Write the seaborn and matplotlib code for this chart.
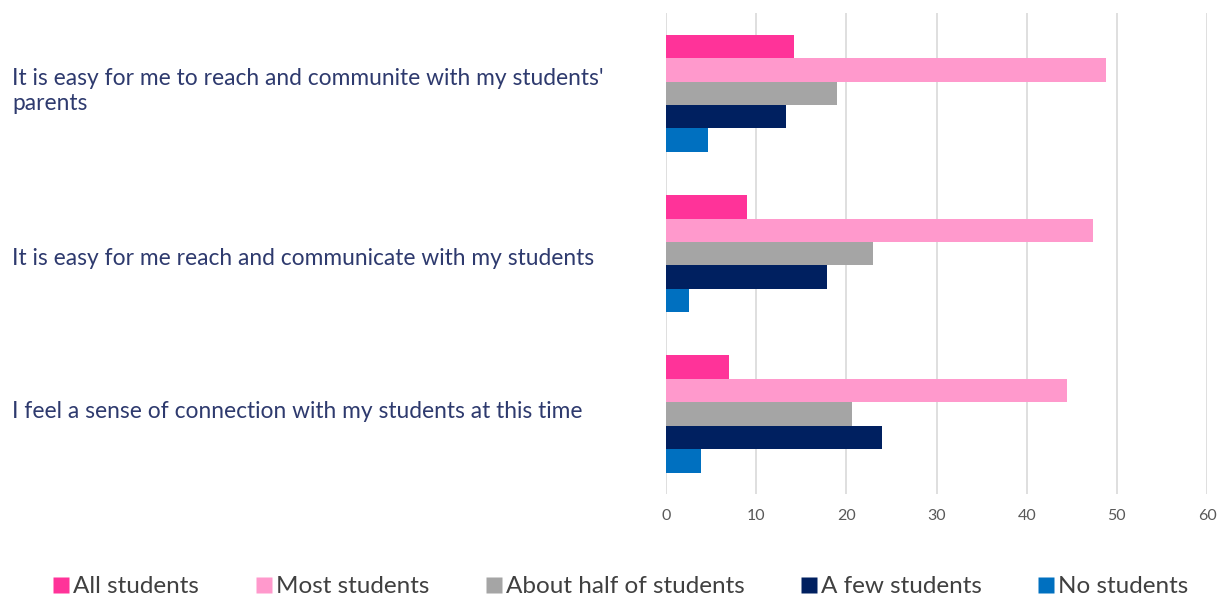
import pandas as pd
import seaborn as sns
import matplotlib.pyplot as plt
from matplotlib.lines import Line2D
from matplotlib.transforms import blended_transform_factory

questions = ["It is easy for me to reach and communite with my students'\nparents",
             "It is easy for me reach and communicate with my students",
             "I feel a sense of connection with my students at this time"]
answers = ['All students', 'Most students', 'About half of students',
           'A few students', 'No students']
colors = ['#FF3399', '#FF99CC', '#A5A5A5', '#002060', '#0070C0']

all_students  = [14.2, 9.0, 7.0]
most_students = [48.8, 47.4, 44.5]
half_students = [19.0, 22.9, 20.6]
few_students  = [13.3, 17.9, 24.0]
no_students   = [4.7, 2.6, 3.9]

rows = []
for i, q in enumerate(questions):
    for a, vals in zip(answers, [all_students, most_students, half_students,
                                 few_students, no_students]):
        rows.append({'question': q, 'answer': a, 'pct': vals[i]})
df = pd.DataFrame(rows)

sns.set_style('white')
plt.rcParams['font.family'] = ['Lato', 'DejaVu Sans']

fig = plt.figure(figsize=(12.23, 5.99), dpi=100)
ax = fig.add_axes([0.5446, 0.175, 0.4424, 0.803])

sns.barplot(data=df, y='question', x='pct', hue='answer', hue_order=answers,
            palette=colors, orient='h', width=0.73, saturation=1,
            edgecolor='none', legend=False, ax=ax)

ax.set_xlim(0, 60)
ax.set_xticks(range(0, 61, 10))
ax.xaxis.grid(True, color='#D9D9D9', linewidth=1.2)
ax.set_axisbelow(True)
for s in ax.spines.values():
    s.set_visible(False)
ax.tick_params(axis='x', labelsize=11.5, labelcolor='#595959', length=0, pad=11)
ax.set_yticks([])
ax.set_xlabel('')
ax.set_ylabel('')

# question labels sit left-aligned at the figure edge
trans = blended_transform_factory(fig.transFigure, ax.transData)
offsets = [-0.015, 0.03, -0.015]
for i, q in enumerate(questions):
    ax.text(12 / 1223, i + offsets[i], q, transform=trans, ha='left', va='center',
            fontsize=16.4, color='#2E3A6E', linespacing=1.25)

handles = [Line2D([0], [0], marker='s', linestyle='none', markersize=11,
                  markerfacecolor=c, markeredgecolor='none') for c in colors]
fig.legend(handles, answers, loc='lower center', bbox_to_anchor=(0.506, -0.034),
           ncol=5, frameon=False, fontsize=17.5, handletextpad=0.0,
           handlelength=1.0, columnspacing=2.15, labelcolor='#404040')

plt.savefig('out.png', dpi=100)
